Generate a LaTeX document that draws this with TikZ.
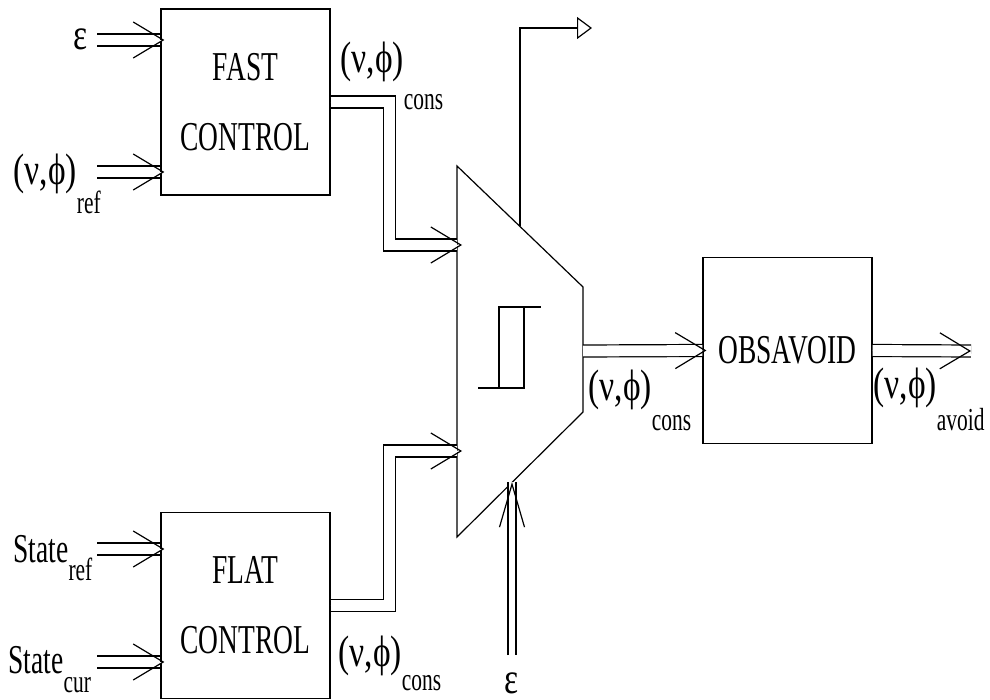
\documentclass[tikz,border=0pt]{standalone}
\usepackage{fontspec}
\setmainfont{Liberation Serif}[FakeStretch=0.67]
\newfontfamily\lblfont{Liberation Serif}[FakeStretch=0.76]
\usetikzlibrary{arrows.meta,calc}
\newcommand{\lowsub}[2][18.5pt]{\raisebox{-#1}{\fontsize{16}{17}\selectfont #2}}
\newcommand{\vphi}{{\lblfont\fontsize{22}{24}\selectfont(ν,ϕ)}}

\begin{document}
\begin{tikzpicture}[
    x=0.5pt, y=-0.5pt, line width=0.6pt,
    block/.style={draw, minimum width=84.5pt, minimum height=93pt, align=center, font=\fontsize{20.5}{35}\selectfont},
    lbl/.style={anchor=base west, inner sep=0pt, font=\fontsize{20.5}{24}\selectfont},
    dbl/.style={preaction={draw=black, line width=0.6pt, double=white, double distance=5.4pt, arrows=-, shorten >=0pt},
        draw=white, line width=0.1pt, shorten >=-2pt,
        -{Straight Barb[color=black, line width=0.6pt, length=15pt, width=18pt]}},
    dblsel/.style={preaction={draw=black, line width=0.6pt, double=white, double distance=3.4pt, arrows=-, shorten >=0pt},
        draw=white, line width=0.1pt,
        -{Straight Barb[color=black, line width=0.6pt, length=21.5pt, width=12.5pt]}}
]
\useasboundingbox (0,0) rectangle (990,700);

\node[block] (fast) at (245.5,102) {FAST\\CONTROL};
\node[block] (flat) at (245.5,605.5) {FLAT\\CONTROL};
\node[block] (obs) at (787.5,350.5) {OBSAVOID};

\coordinate (mux-a) at (457,166);
\coordinate (mux-b) at (583,287);
\coordinate (mux-c) at (583,412);
\coordinate (mux-d) at (457,537);
\draw (mux-a) -- (mux-b) -- (mux-c) -- (mux-d) -- cycle;
\draw (478,388) -- (524,388) -- (524,307);
\draw (499,388) -- (499,307) -- (541,307);

\coordinate (mux-in1) at (457,245);
\coordinate (mux-in2) at (457,451);
\coordinate (mux-sel) at (512,482);
\coordinate (mux-out) at (583,351);
\coordinate (mux-tap) at (520,226.5);

\coordinate (eps-in) at (97,40);
\coordinate (ref-in) at (97,172);
\coordinate (sref-in) at (97,549);
\coordinate (scur-in) at (97,662);
\coordinate (sel-in) at (512,655);
\coordinate (top-out) at (592,28);
\coordinate (avoid-out) at (971,351);

\node[lbl, anchor=base east] (eps1) at (88,50) {\lblfont\fontsize{22}{24}\selectfont ε};
\node[lbl] (vref) at (13,185) {\vphi\lowsub[14pt]{ref}};
\node[lbl] (sref) at (13,562) {State\lowsub[9pt]{ref}};
\node[lbl] (scur) at (8,673) {State\lowsub[9.5pt]{cur}};
\node[lbl] (cons1) at (340,73) {\vphi\lowsub{cons}};
\node[lbl] (cons2) at (588,400) {\vphi\lowsub[15pt]{cons}};
\node[lbl] (cons3) at (338,666) {\vphi\lowsub[12pt]{cons}};
\node[lbl] (avoid) at (873,398) {\vphi\lowsub[16pt]{avoid}};
\node[lbl, anchor=base] (eps2) at (512,693) {\lblfont\fontsize{22}{24}\selectfont ε};

\draw[dbl] (eps-in) -- (eps-in -| fast.west);
\draw[dbl] (ref-in) -- (ref-in -| fast.west);
\draw[dbl] (sref-in) -- (sref-in -| flat.west);
\draw[dbl] (scur-in) -- (scur-in -| flat.west);
\draw[dbl, shorten >=-2.5pt] (fast.east) -- ++(58.5,0) |- (mux-in1);
\draw[dbl, shorten >=-2.5pt] (flat.east) -- ++(58.5,0) |- (mux-in2);
\draw[dblsel] (sel-in) -- (mux-sel);
\draw[dbl] (mux-out) -- (obs.west);
\draw[dbl, shorten >=0pt] (obs.east) -- (avoid-out);
\draw[-{Triangle[open, length=7.5pt, width=11pt]}] (mux-tap) |- (top-out);
\end{tikzpicture}
\end{document}
